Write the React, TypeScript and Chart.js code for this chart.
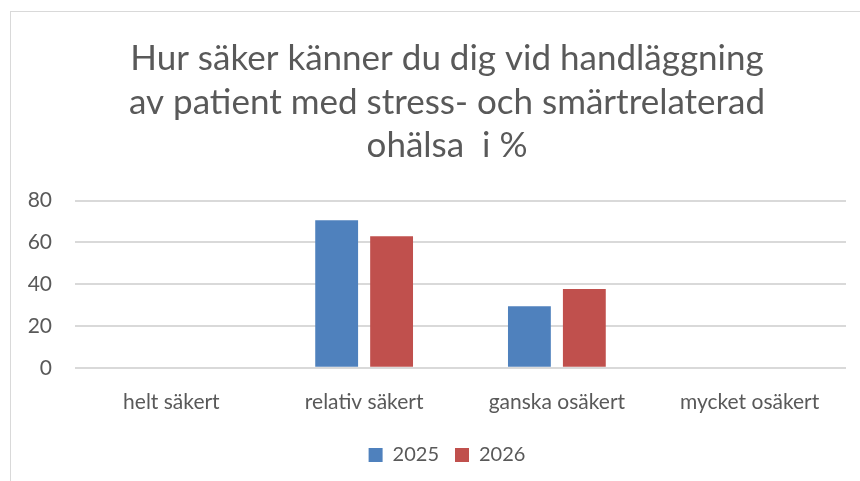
import React, { useEffect, useRef } from "react";
import { Chart, registerables } from "chart.js";

Chart.register(...registerables);

const titleLines = [
  "Hur säker känner du dig vid handläggning",
  "av patient med stress- och smärtrelaterad",
  "ohälsa  i %",
];
const categories = ["helt säkert", "relativ säkert", "ganska osäkert", "mycket osäkert"];
const series2025 = [0, 70.6, 29.4, 0];
const series2026 = [0, 62.9, 37.7, 0];
const yTicks = [0, 20, 40, 60, 80];

const FONT = "Lato, 'Open Sans', sans-serif";
const TEXT = "#595959";

const shiftBlocks = {
  id: "shiftBlocks",
  afterLayout(chart: any) {
    if (chart.titleBlock) chart.titleBlock.left += 20;
    if (chart.legend) chart.legend.left += 20;
  },
};

export default function App() {
  const ref = useRef<HTMLCanvasElement | null>(null);
  useEffect(() => {
    document.body.style.margin = "0";
    const ctx = ref.current!;
    const chart = new Chart(ctx, {
      type: "bar",
      data: {
        labels: categories,
        datasets: [
          { label: "2025", data: series2025, backgroundColor: "#4F81BD" },
          { label: "2026", data: series2026, backgroundColor: "#C0504D" },
        ],
      },
      plugins: [shiftBlocks],
      options: {
        animation: false,
        responsive: false,
        maintainAspectRatio: false,
        layout: { padding: { left: 28, right: 14, top: 0, bottom: 6 } },
        datasets: { bar: { categoryPercentage: 0.57, barPercentage: 0.78 } },
        plugins: {
          title: {
            display: true,
            text: titleLines,
            color: TEXT,
            font: { family: FONT, size: 35, weight: "normal", lineHeight: 1.243 },
            padding: { top: 37, bottom: 33 },
          },
          legend: {
            position: "bottom",
            labels: {
              color: TEXT,
              font: { family: FONT, size: 20 },
              boxWidth: 14,
              boxHeight: 14,
              padding: 16,
            },
          },
          tooltip: { enabled: false },
        },
        scales: {
          x: {
            grid: { display: false },
            border: { display: false },
            ticks: { color: TEXT, font: { family: FONT, size: 21 }, padding: 14 },
          },
          y: {
            min: 0,
            max: 80,
            afterBuildTicks: (s: any) => {
              s.ticks = yTicks.map((v) => ({ value: v }));
            },
            afterFit: (s: any) => {
              s.width = 47;
            },
            grid: { color: "#d9d9d9", lineWidth: 2, drawTicks: false },
            border: { display: false },
            ticks: { color: TEXT, font: { family: FONT, size: 21 }, padding: 23 },
          },
        },
      },
    });
    return () => chart.destroy();
  }, []);
  return (
    <div style={{ position: "relative", width: 860, height: 481, background: "#fff", overflow: "hidden" }}>
      <div
        style={{
          position: "absolute",
          left: 10,
          top: 11,
          width: 900,
          height: 500,
          border: "1px solid #d9d9d9",
        }}
      />
      <canvas ref={ref} width={860} height={481} style={{ position: "absolute", left: 0, top: 0 }} />
    </div>
  );
}
